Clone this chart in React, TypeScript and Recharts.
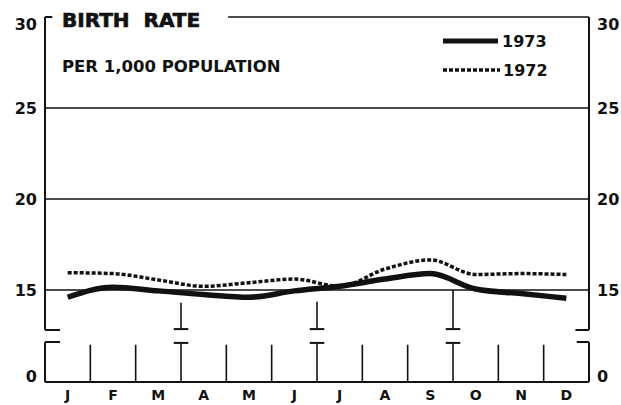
import React from 'react';
import { LineChart, Line, XAxis, YAxis, ReferenceLine } from 'recharts';

// month letters along the bottom
const months = ['J', 'F', 'M', 'A', 'M', 'J', 'J', 'A', 'S', 'O', 'N', 'D'];
// birth rate per 1,000 population
const rate1973 = [14.6, 15.15, 14.95, 14.75, 14.6, 14.95, 15.2, 15.6, 15.9, 15.05, 14.8, 14.55];
const rate1972 = [15.95, 15.9, 15.55, 15.2, 15.4, 15.6, 15.2, 16.15, 16.65, 15.85, 15.9, 15.85];
const upperTicks = [15, 20, 25, 30];
const lowerTicks = [0];

const rows = months.map((m, i) => ({ idx: i, month: m, y1973: rate1973[i], y1972: rate1972[i] }));

const INK = '#111';
const TICK_FONT = '"DejaVu Sans", sans-serif';

function YTick(props: any) {
  const { x, y, payload, textAnchor } = props;
  // the top "30" sits a little under its level, the "0" a little above the base
  let dy = 0;
  if (payload.value === 30) dy = 7;
  if (payload.value === 0) dy = -6;
  return (
    <text x={x} y={y + dy} dy="0.36em" textAnchor={textAnchor} fontFamily={TICK_FONT}
      fontWeight="bold" fontSize={16} fill={INK}>
      {payload.value}
    </text>
  );
}

function XTick(props: any) {
  const { x, y, payload } = props;
  return (
    <text x={x} y={y} dy="0.71em" textAnchor="middle" fontFamily={TICK_FONT}
      fontWeight="bold" fontSize={14} fill={INK}>
      {months[payload.value]}
    </text>
  );
}

const axisStyle = { stroke: INK, strokeWidth: 2 };
const gridStyle = { stroke: INK, strokeWidth: 1.6 };

// month boundaries and the quarter ones that carry the break caps
const dividers = [0.5, 1.5, 2.5, 3.5, 4.5, 5.5, 6.5, 7.5, 8.5, 9.5, 10.5];
const quarters = [2.5, 5.5, 8.5];
const quarterTops = [14.3, 14.35, 15];

export default function App() {
  return (
    <div style={{ position: 'absolute', left: 0, top: 0, width: 621, height: 405, background: '#fff' }}>
      {/* upper panel: 12.8 to 30 */}
      <div style={{ position: 'absolute', left: 0, top: 0 }}>
        <LineChart width={621} height={335} data={rows} margin={{ top: 17, right: 0, bottom: 5, left: 5 }}>
          <XAxis type="number" dataKey="idx" domain={[-0.5, 11.5]} hide />
          <YAxis yAxisId="l" domain={[12.8, 30]} ticks={upperTicks} allowDataOverflow width={40}
            axisLine={axisStyle} tickLine={false} tick={(p: any) => <YTick {...p} />} />
          <YAxis yAxisId="r" orientation="right" domain={[12.8, 30]} ticks={upperTicks} allowDataOverflow
            width={32} axisLine={axisStyle} tickLine={false} tick={(p: any) => <YTick {...p} />} />

          <ReferenceLine yAxisId="l" y={25} style={gridStyle} />
          <ReferenceLine yAxisId="l" y={20} style={gridStyle} />
          <ReferenceLine yAxisId="l" y={15} style={gridStyle} />
          {/* top rule after the title, bracket ends */}
          <ReferenceLine yAxisId="l" segment={[{ x: 3.54, y: 30 }, { x: 11.5, y: 30 }]} style={gridStyle} />
          <ReferenceLine yAxisId="l" segment={[{ x: -0.5, y: 30 }, { x: -0.34, y: 30 }]} style={axisStyle} />
          <ReferenceLine yAxisId="l" segment={[{ x: -0.5, y: 12.8 }, { x: -0.17, y: 12.8 }]} style={axisStyle} />
          <ReferenceLine yAxisId="l" segment={[{ x: 11.2, y: 12.8 }, { x: 11.5, y: 12.8 }]} style={axisStyle} />
          {quarters.map((q, i) => (
            <ReferenceLine key={'qv' + q} yAxisId="l" segment={[{ x: q, y: 12.8 }, { x: q, y: quarterTops[i] }]} style={gridStyle} />
          ))}
          {quarters.map((q) => (
            <ReferenceLine key={'qc' + q} yAxisId="l" segment={[{ x: q - 0.16, y: 12.85 }, { x: q + 0.16, y: 12.85 }]} style={axisStyle} />
          ))}

          <Line yAxisId="l" type="monotone" dataKey="y1972" stroke={INK} strokeWidth={3.5}
            strokeDasharray="4 2" dot={false} isAnimationActive={false} />
          <Line yAxisId="l" type="monotone" dataKey="y1973" stroke={INK} strokeWidth={5.5}
            dot={false} isAnimationActive={false} />
        </LineChart>
      </div>

      {/* lower panel: 0 to 2.2, carries the month labels */}
      <div style={{ position: 'absolute', left: 0, top: 334 }}>
        <LineChart width={621} height={71} data={rows} margin={{ top: 8, right: 0, bottom: 0, left: 5 }}>
          <XAxis type="number" dataKey="idx" domain={[-0.5, 11.5]} ticks={rows.map((r) => r.idx)}
            height={23} axisLine={axisStyle} tickLine={false} tickMargin={2} tick={(p: any) => <XTick {...p} />} />
          <YAxis yAxisId="l" domain={[0, 2.2]} ticks={lowerTicks} allowDataOverflow width={40}
            axisLine={axisStyle} tickLine={false} tick={(p: any) => <YTick {...p} />} />
          <YAxis yAxisId="r" orientation="right" domain={[0, 2.2]} ticks={lowerTicks} allowDataOverflow width={32}
            axisLine={axisStyle} tickLine={false} tick={(p: any) => <YTick {...p} />} />

          <ReferenceLine yAxisId="l" segment={[{ x: -0.5, y: 2.2 }, { x: -0.17, y: 2.2 }]} style={axisStyle} />
          <ReferenceLine yAxisId="l" segment={[{ x: 11.23, y: 2.2 }, { x: 11.5, y: 2.2 }]} style={axisStyle} />
          {dividers.map((d) => (
            <ReferenceLine key={'d' + d} yAxisId="l" segment={[{ x: d, y: 0 }, { x: d, y: quarters.includes(d) ? 2.15 : 2.05 }]} style={gridStyle} />
          ))}
          {quarters.map((q) => (
            <ReferenceLine key={'lc' + q} yAxisId="l" segment={[{ x: q - 0.16, y: 2.15 }, { x: q + 0.16, y: 2.15 }]} style={axisStyle} />
          ))}
        </LineChart>
      </div>

      {/* title and legend */}
      <svg width={621} height={405} style={{ position: 'absolute', left: 0, top: 0, pointerEvents: 'none' }}>
        <text x={62} y={27} fontFamily={TICK_FONT} fontWeight="bold" fontSize={20} fill={INK}
          stroke={INK} strokeWidth={0.7} style={{ whiteSpace: 'pre' }}>
          {'BIRTH  RATE'}
        </text>
        <text x={62} y={72} fontFamily={TICK_FONT} fontWeight="bold" fontSize={16.5} fill={INK}>
          PER 1,000 POPULATION
        </text>
        <line x1={443} y1={41} x2={498} y2={41} stroke={INK} strokeWidth={5} />
        <text x={502} y={47} fontFamily={TICK_FONT} fontWeight="bold" fontSize={16} fill={INK}>1973</text>
        <line x1={443} y1={70} x2={500} y2={70} stroke={INK} strokeWidth={3.5} strokeDasharray="4 2" />
        <text x={503} y={76} fontFamily={TICK_FONT} fontWeight="bold" fontSize={16} fill={INK}>1972</text>
      </svg>
    </div>
  );
}
